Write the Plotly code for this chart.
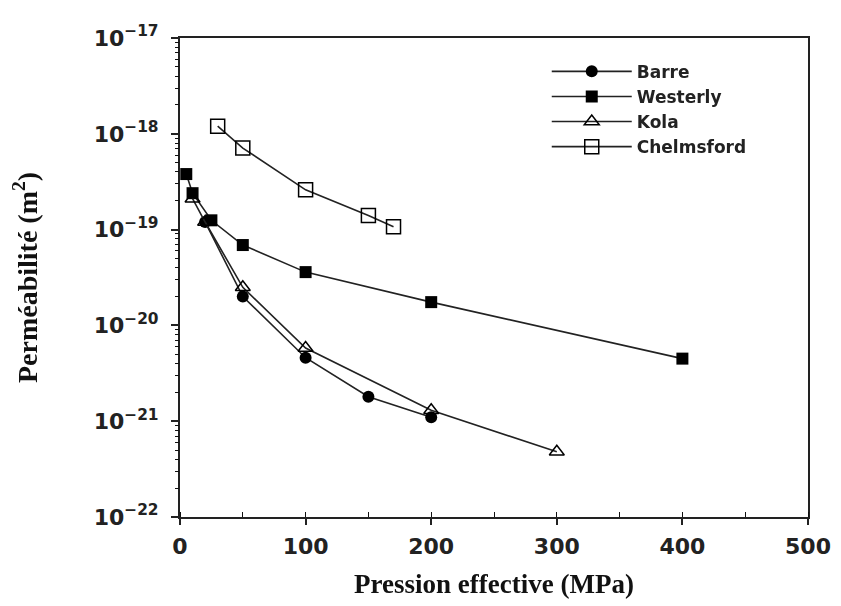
import plotly.graph_objects as go

barre_x = [20, 50, 100, 150, 200]
barre_y = [1.2e-19, 2.0e-20, 4.6e-21, 1.8e-21, 1.1e-21]

westerly_x = [5, 10, 25, 50, 100, 200, 400]
westerly_y = [3.8e-19, 2.4e-19, 1.25e-19, 6.9e-20, 3.6e-20, 1.75e-20, 4.5e-21]

kola_x = [10, 20, 50, 100, 200, 300]
kola_y = [2.1e-19, 1.2e-19, 2.5e-20, 5.8e-21, 1.3e-21, 4.8e-22]

chelm_x = [30, 50, 100, 150, 170]
chelm_y = [1.2e-18, 7.1e-19, 2.6e-19, 1.4e-19, 1.07e-19]

y_exps = [-17, -18, -19, -20, -21, -22]
x_ticks = [0, 100, 200, 300, 400, 500]

line = dict(color="#222", width=1.6)
fig = go.Figure()
fig.add_trace(go.Scatter(x=barre_x, y=barre_y, name="Barre", mode="lines+markers", line=line,
                         marker=dict(symbol="circle", size=12, color="black")))
fig.add_trace(go.Scatter(x=westerly_x, y=westerly_y, name="Westerly", mode="lines+markers", line=line,
                         marker=dict(symbol="square", size=12, color="black")))
fig.add_trace(go.Scatter(x=kola_x, y=kola_y, name="Kola", mode="lines+markers", line=line,
                         marker=dict(symbol="triangle-up-open", size=13, color="black", line=dict(width=1.5))))
fig.add_trace(go.Scatter(x=chelm_x, y=chelm_y, name="Chelmsford", mode="lines+markers", line=line,
                         marker=dict(symbol="square-open", size=14, color="black", line=dict(width=1.5))))
# transparent copy hosting the minor-tick overlay axis
fig.add_trace(go.Scatter(x=westerly_x, y=westerly_y, yaxis="y2", mode="markers", opacity=0,
                         showlegend=False, hoverinfo="skip"))

tickfont = dict(family="DejaVu Sans", size=22, color="#222", weight="bold")
minor_y = [m * 10.0 ** e for e in range(-22, -17) for m in range(2, 10)]

fig.update_layout(
    width=841, height=606,
    margin=dict(l=172, r=41, t=30, b=97),
    paper_bgcolor="white", plot_bgcolor="white",
    showlegend=True,
    legend=dict(x=0.584, y=0.967, xanchor="left", yanchor="top", itemwidth=80,
                font=dict(family="DejaVu Sans", size=17, color="#222", weight="bold"),
                bgcolor="rgba(0,0,0,0)", tracegroupgap=0),
    yaxis2=dict(type="log", range=[-22, -17], overlaying="y", side="left", anchor="x",
                tickmode="array", tickvals=minor_y, showticklabels=False,
                ticks="outside", ticklen=4, tickwidth=1.3, tickcolor="#111",
                showgrid=False, zeroline=False, showline=False),
)
fig.update_xaxes(
    range=[0, 500], tickvals=x_ticks, ticktext=[str(v) for v in x_ticks],
    ticks="outside", ticklen=6, tickwidth=1.5, tickcolor="#222", ticklabelstandoff=3,
    minor=dict(dtick=50, ticks="inside", ticklen=5, tickwidth=1.3, tickcolor="#111"),
    showline=True, linecolor="#222", linewidth=2, mirror=True, showgrid=False, zeroline=False,
    tickfont=tickfont,
    title=dict(text="Pression effective (MPa)",
               font=dict(family="Liberation Serif", size=27, color="#111", weight="bold"), standoff=16),
)
fig.layout.yaxis.update(
    type="log", range=[-22, -17],
    tickvals=[10.0 ** e for e in y_exps],
    ticktext=["10<sup>\u2212%d</sup>" % (-e) for e in y_exps],
    ticks="outside", ticklen=7, tickwidth=1.5, tickcolor="#222", ticklabelstandoff=8,
    showline=True, linecolor="#222", linewidth=2, mirror=True, showgrid=False, zeroline=False,
    tickfont=tickfont,
    title=dict(text="Perméabilité (m<sup>2</sup>)",
               font=dict(family="Liberation Serif", size=28, color="#111", weight="bold"), standoff=52),
)
fig.write_html("out.html")
